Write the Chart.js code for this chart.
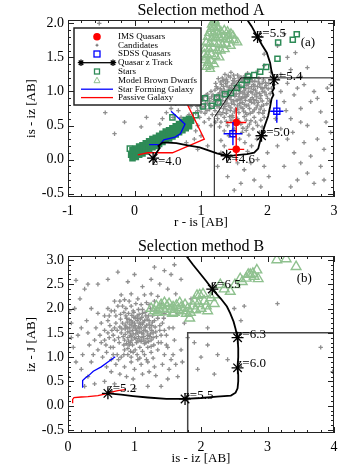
<!DOCTYPE html>
<html>
<head>
<meta charset="utf-8">
<script src="https://cdn.jsdelivr.net/npm/chart.js@4.4.1/dist/chart.umd.min.js"></script>
<style>
  body { margin: 0; background: #fff; }
  .panel { width: 354px; height: 236px; }
</style>
</head>
<body>
<div class="panel"><canvas id="chartA" width="354" height="236"></canvas></div>
<div class="panel"><canvas id="chartB" width="354" height="236"></canvas></div>
<script>
// ---------- Panel A data (r - is vs is - iz) ----------
const candidatesA = [
  [1.22,1.12],[1.25,1.05],[1.28,0.98],[1.31,1.1],[1.33,0.92],[1.35,1.02],[1.37,0.86],[1.4,1.14],[1.41,0.95],[1.43,1.06],
  [1.45,0.88],[1.46,0.99],[1.48,1.12],[1.5,0.81],[1.51,0.93],[1.53,1.03],[1.55,0.87],[1.56,1.16],[1.58,0.97],[1.6,1.08],
  [1.62,0.84],[1.63,0.92],[1.65,1.01],[1.67,1.13],[1.68,0.79],[1.7,0.95],[1.72,1.05],[1.74,0.88],[1.75,1.18],[1.77,0.98],
  [1.79,1.1],[1.8,0.83],[1.82,1.02],[1.84,0.92],[1.86,1.14],[1.88,0.97],[1.9,1.06],[1.92,0.86],[1.94,1.17],[1.96,0.99],
  [1.98,1.09],[2.0,0.9],[2.02,1.12],[1.18,0.95],[1.2,0.85],[1.15,1.0],[1.12,0.9],[1.1,0.82],[1.08,0.95],[1.05,0.78],
  [1.02,0.88],[0.98,0.8],[0.95,0.72],[0.9,0.85],[0.92,0.68],[1.0,0.7],[1.06,0.68],[1.13,0.74],[1.17,0.66],[1.24,0.78],
  [1.27,0.7],[1.3,0.82],[1.34,0.75],[1.38,0.68],[1.42,0.79],[1.44,0.72],[1.47,0.65],[1.52,0.74],[1.57,0.69],[1.6,0.77],
  [1.64,0.71],[1.69,0.66],[1.73,0.75],[1.78,0.7],[1.83,0.76],[1.87,0.69],[1.91,0.78],[1.95,0.72],[1.26,1.19],[1.32,1.2],
  [1.38,1.18],[1.44,1.21],[1.5,1.19],[1.36,1.25],[1.45,1.28],[1.55,1.24],[1.6,1.21],[1.66,1.23],[1.29,1.14],[1.39,1.08],
  [1.47,1.04],[1.54,1.1],[1.59,1.0],[1.61,0.9],[1.66,0.96],[1.71,0.99],[1.73,1.14],[1.76,1.07],[1.81,0.95],[1.85,1.07],
  [1.89,0.9],[1.93,1.0],[1.97,1.13],[1.99,0.82],[1.36,0.97],[1.42,1.0],[1.49,0.97],[1.57,0.92],[1.64,1.06],[1.69,1.09],
  [1.77,0.91],[1.83,0.87],[1.34,1.07],[1.27,0.9],[1.21,1.02],[1.19,0.78],[1.23,0.93],[1.4,0.9],[1.46,0.83],[1.53,0.87],
  [1.58,0.82],[1.67,0.87],[1.71,0.8],[1.76,0.84],[1.81,1.15],[1.87,1.19],[1.92,1.12],[2.04,0.97],[2.06,1.05],[1.31,1.01],
  [1.48,1.16],[1.62,1.15],[1.7,1.17],[1.52,1.07],[1.44,0.93],[1.35,0.81],[1.3,0.94],[1.58,1.04],[1.66,0.91],[1.79,1.03],
  [1.23,1.07],[1.26,0.96],[1.29,1.04],[1.32,0.87],[1.34,1.16],[1.37,1.12],[1.39,0.83],[1.41,1.02],[1.43,0.91],[1.46,1.09],
  [1.49,0.86],[1.51,1.14],[1.53,0.96],[1.55,0.79],[1.57,1.06],[1.59,0.88],[1.61,1.18],[1.63,0.98],[1.65,0.81],[1.67,1.04],
  [1.69,0.93],[1.71,1.11],[1.73,0.86],[1.75,1.0],[1.77,1.15],[1.79,0.88],[1.81,1.08],[1.84,0.98],[1.86,0.84],[1.88,1.11],
  [1.9,0.94],[1.92,1.04],[1.94,0.8],[1.96,1.06],[1.98,0.95],[2.01,1.04],[2.03,0.86],[1.1,0.96],[1.13,0.86],[1.16,0.92],
  [1.19,0.88],[1.14,0.79],[1.07,0.83],[1.04,0.92],[1.01,0.76],[0.97,0.86],[0.94,0.78],[1.09,0.72],[1.21,0.72],[1.25,0.85],
  [1.28,0.76],[1.33,0.69],[1.36,0.78],[1.39,0.73],[1.45,0.76],[1.5,0.7],[1.55,0.74],[1.63,0.75],[1.67,0.69],[1.74,0.68],
  [1.8,0.73],[1.85,0.8],[1.89,0.74],[1.93,0.68],[1.57,0.56],[1.63,0.46],[1.52,0.52],[1.43,0.63],[1.73,0.52],[1.82,0.55],
  [1.38,0.56],[1.47,0.42],[1.68,0.43],[1.92,0.48],[1.3,0.66],[1.24,0.66],[1.49,1.24],[1.57,1.2],[1.41,1.23],[1.64,1.18],
  [1.33,1.16],
  [1.25,0.6],[1.3,0.55],[1.35,0.62],[1.4,0.5],[1.45,0.58],[1.5,0.45],[1.55,0.6],[1.6,0.52],[1.65,0.63],[1.7,0.48],
  [1.75,0.57],[1.8,0.62],[1.85,0.5],[1.9,0.58],[1.62,0.4],[1.72,0.36],[1.58,0.3],[1.42,0.35],[1.35,0.42],[1.28,0.48],
  [1.68,0.58],[1.78,0.45],[1.88,0.4],[1.95,0.62],[1.48,0.62],[1.22,0.55],[1.12,0.6],[1.05,0.55],[0.98,0.62],[1.15,0.5],
  [1.66,0.25],[1.76,0.2],[1.3,0.28],[1.84,0.3],[0.85,0.78],[0.8,0.9],[0.75,0.83],[0.7,0.88],[0.62,0.82],[0.55,0.75],
  [0.48,0.69],[0.66,0.72],[0.88,0.58],[0.95,0.5],[0.82,0.66],[0.58,0.62],[0.42,0.6],[0.38,0.52],[0.7,0.62],[0.92,0.42],
  [1.0,0.35],[0.9,0.3],[1.7,1.27],[1.85,1.3],[1.95,1.38],[2.05,1.28],[2.2,1.25],[2.3,1.5],[2.42,1.57],[2.35,1.32],
  [2.5,1.22],[2.25,1.85],[1.95,1.55],[2.6,1.35],[2.15,1.67],[2.1,1.1],[2.2,1.0],[2.25,0.85],[2.3,1.12],[2.35,0.6],
  [2.4,0.95],[2.45,1.05],[2.5,0.75],[2.55,1.1],[2.6,0.5],[2.65,0.85],[2.7,1.0],[2.75,0.3],[2.8,0.7],[2.85,0.15],
  [2.9,1.05],[2.95,0.4],[2.3,0.3],[2.4,0.1],[2.5,-0.05],[2.6,-0.2],[2.7,-0.35],[2.85,-0.3],[2.2,0.45],[2.15,0.2],
  [2.25,-0.1],[2.55,0.25],[2.45,-0.3],[2.35,-0.4],[2.8,-0.1],[2.65,0.05],[2.12,0.6],[2.28,0.72],[2.38,0.4],[2.5,0.55],
  [2.95,1.1],[2.75,0.9],[2.88,0.55],[1.3,0.1],[1.45,0.05],[1.55,-0.05],[1.65,-0.15],[1.75,-0.05],[1.85,0.0],[1.95,-0.1],
  [2.0,0.1],[1.4,-0.25],[1.6,-0.35],[1.8,-0.3],[1.5,-0.45],[1.25,-0.1],[1.9,-0.4],[1.7,0.12],[2.02,-0.25],[1.35,0.2],
  [-0.53,2.0],[-0.44,0.69],[-0.3,0.38],[0.3,0.85],[0.18,0.62],[0.1,0.48],[-0.15,0.55],[0.6,0.35],[0.78,0.25],[1.1,0.2],
  [0.95,0.15]
];
const starsA = [
  [-0.07,0.16],[0.57,0.62],[0.92,0.65],[1.03,0.78],[1.16,0.79],[1.06,0.9],[1.26,0.84],[1.24,0.91],[1.36,0.96],[1.45,0.98],
  [1.54,1.05],[1.61,1.1],[1.69,1.17],[1.71,1.22],[1.8,1.24],[1.89,1.29],[1.98,1.36],[2.15,1.48],[2.16,1.72],[2.38,1.76],[2.44,1.84]
];
const stellarBandA = [
  [-0.05,0.07],[0,0.1],[0.05,0.13],[0.1,0.15],[0.15,0.18],[0.2,0.21],[0.25,0.24],[0.3,0.26],[0.35,0.29],[0.4,0.32],
  [0.45,0.35],[0.5,0.37],[0.55,0.4],[0.6,0.43],[0.65,0.46],[0.7,0.49],[0.75,0.52],[0.8,0.55],[0.85,0.57],
  [-0.03,0.14],[0.02,0.16],[0.07,0.19],[0.12,0.21],[0.17,0.24],[0.22,0.27],[0.27,0.3],[0.32,0.32],[0.37,0.35],[0.42,0.38],
  [0.47,0.41],[0.52,0.43],[0.57,0.46],[0.62,0.49],[0.67,0.52],[0.72,0.55],[0.77,0.58],[0.82,0.6],
  [-0.03,0.02],[0.02,0.04],[0.07,0.07],[0.12,0.09],[0.17,0.12],[0.22,0.15],[0.27,0.18],[0.32,0.2],[0.37,0.23],[0.42,0.26],
  [0.47,0.29],[0.52,0.31],[0.57,0.34],[0.62,0.37],[0.67,0.4],[0.72,0.43],[0.77,0.46],[0.82,0.49]
];
const dwarfsA = [
  [1.18,2.02],[1.22,2.0],[1.2,1.95],[1.15,1.92],[1.25,1.93],[1.12,1.86],[1.18,1.85],[1.24,1.87],[1.3,1.88],[1.35,1.9],
  [1.4,1.88],[1.45,1.85],[1.48,1.82],[1.1,1.8],[1.16,1.78],[1.22,1.8],[1.28,1.78],[1.33,1.8],[1.38,1.77],[1.43,1.76],
  [1.5,1.75],[1.55,1.72],[1.08,1.72],[1.13,1.7],[1.2,1.72],[1.26,1.7],[1.32,1.68],[1.38,1.7],[1.45,1.67],[1.06,1.63],
  [1.12,1.62],[1.18,1.64],[1.24,1.6],[1.3,1.6],[1.36,1.62],[1.05,1.55],[1.1,1.53],[1.16,1.55],[1.22,1.52],[1.28,1.5],
  [1.05,1.46],[1.1,1.42],[1.15,1.45],[1.2,1.4],[1.08,1.36],[1.14,1.33],[1.21,2.04],[1.16,1.98],[1.27,1.83],[1.41,1.82],
  [1.07,1.5],[1.13,1.38]
];
const imsQuasars = [[1.53,0.545],[1.53,0.15]];
const imsXErr = [0.15,0.12];
const imsYErr = [0.22,0.18];
const sdssQuasars = [[1.48,0.38],[2.14,0.71]];
const sdssXErr = [0.14,0.1];
const sdssYErr = [0.17,0.17];
const trackA = [
  [0.28,0.02],[0.33,0.1],[0.38,0.17],[0.36,0.2],[0.42,0.25],[0.5,0.25],[0.63,0.24],[0.8,0.21],[0.98,0.18],[1.1,0.14],
  [1.24,0.09],[1.386,0.056],[1.5,0.06],[1.69,0.08],[1.8,0.1],[1.86,0.16],[1.91,0.35],[1.96,0.5],[2.01,0.64],[2.04,0.78],
  [2.06,0.89],[2.09,0.95],[2.07,1.0],[2.1,1.05],[2.08,1.1],[2.1,1.17],[2.06,1.3],[2.04,1.42],[1.99,1.57],[1.92,1.68],
  [1.85,1.8],[1.76,1.96],[1.69,2.06]
];
const trackStarsA = [[0.28,0.02],[1.386,0.056],[1.91,0.35],[2.1,1.17],[1.85,1.8]];
const trackLabelsA = ['z=4.0','z=4.6','z=5.0','z=5.4','z=5.5'];
const sfGalaxyA = [[0.22,0.22],[0.38,0.22],[0.44,0.29],[0.61,0.33],[0.69,0.38],[0.76,0.52],[0.55,0.71]];
const passiveGalaxyA = [[0.05,0.07],[0.2,0.1],[0.57,0.1],[1.05,0.3],[0.8,0.8],[0.72,0.95]];
const selectionA = [[1.2,-0.6],[1.2,0.62],[1.6,1.2],[3.1,1.2]];

// ---------- Panel B data (is - iz vs iz - J) ----------
const candidatesB = [
  [0.8,1.5],[0.82,1.7],[0.85,1.35],[0.87,1.85],[0.9,1.6],[0.92,1.25],[0.94,1.45],[0.95,1.75],[0.97,1.55],[0.98,1.95],
  [1.0,1.4],[1.01,1.65],[1.03,1.3],[1.04,1.85],[1.05,1.5],[1.07,1.7],[1.08,1.2],[1.1,1.6],[1.11,1.4],[1.12,1.9],
  [1.14,1.55],[1.15,1.75],[1.17,1.3],[1.18,1.65],[1.2,1.45],[1.21,1.85],[1.23,1.6],[1.25,1.35],[1.27,1.72],[1.28,1.5],
  [1.3,1.95],[0.78,1.62],[0.83,1.42],[0.86,1.58],[0.88,1.28],[0.91,1.9],[0.93,1.68],[0.96,1.35],[0.99,1.82],[1.02,1.58],
  [1.06,1.42],[1.09,1.78],[1.13,1.48],[1.16,1.92],[1.19,1.38],[1.22,1.68],[1.26,1.55],[1.29,1.25],[0.99,1.62],[1.04,1.75],
  [1.08,1.52],[0.93,1.52],[0.89,1.72],[1.12,1.68],[1.16,1.55],[0.97,1.25],[1.01,1.15],[1.06,1.98],[0.84,1.92],[0.76,1.4],
  [0.79,1.78],[1.31,1.62],[1.33,1.42],[1.35,1.8],[1.24,2.0],[0.95,2.05],[1.1,2.08],[0.87,2.0],[1.18,2.12],[0.96,1.66],
  [1.02,1.48],[1.07,1.6],[1.11,1.82],[0.9,1.4],[0.86,1.66],[1.14,1.35],[1.19,1.78],[1.23,1.42],[1.05,1.33],[0.94,1.12],
  [0.81,1.58],[0.84,1.25],[0.86,1.47],[0.88,1.8],[0.9,1.52],[0.91,1.33],[0.93,1.6],[0.95,1.42],[0.96,1.86],[0.98,1.48],
  [1.0,1.7],[1.02,1.38],[1.03,1.55],[1.05,1.8],[1.06,1.62],[1.08,1.35],[1.09,1.68],[1.11,1.5],[1.13,1.72],[1.14,1.42],
  [1.16,1.62],[1.17,1.85],[1.19,1.52],[1.21,1.32],[1.22,1.75],[1.24,1.48],[1.26,1.65],[1.28,1.4],[1.3,1.75],[1.32,1.52],
  [0.74,1.55],[0.77,1.3],[0.79,1.88],[0.82,2.05],[0.85,1.15],[0.9,1.18],[0.98,1.1],[1.04,1.05],[1.12,1.12],[1.2,1.2],
  [1.27,1.85],[1.33,1.95],[1.38,1.65],[1.4,1.45],[1.36,1.3],[0.72,1.7],[0.7,1.35],[0.66,1.55],[0.64,1.2],[0.7,1.95],
  [0.78,2.15],[0.92,2.15],[1.02,2.1],[1.12,1.98],[1.22,2.08],[1.3,2.15],[0.6,1.5],[0.55,1.35],[0.62,1.85],[0.68,1.05],
  [0.76,0.95],[0.84,1.05],[0.95,1.0],[1.08,0.98],[1.18,0.95],[1.28,0.98],[1.45,1.55],[1.48,1.25],[1.52,1.6],[1.44,1.8],
  [0.92,1.77],[0.97,1.72],[1.01,1.8],[1.07,1.88],[0.87,1.62],[0.94,1.3],[1.15,1.28],[1.25,1.22],[0.99,1.92],[1.1,1.32],
  [0.5,1.3],[0.55,1.55],[0.58,1.1],[0.6,1.75],[0.62,1.4],[0.65,0.95],[0.68,1.2],[0.7,1.6],[0.72,1.85],[0.74,1.05],
  [0.75,2.05],[0.68,1.45],[0.63,1.65],[0.57,1.25],[0.52,1.0],[0.48,1.45],[0.45,1.15],[0.72,0.85],[0.8,1.0],[0.85,0.8],
  [0.9,1.05],[0.95,0.9],[1.0,0.75],[1.05,0.95],[1.1,0.85],[1.15,1.05],[1.2,0.9],[1.25,1.1],[1.3,0.8],[1.35,1.15],
  [1.4,1.3],[1.45,1.05],[1.38,1.55],[1.42,1.7],[1.48,1.45],[1.5,1.2],[1.55,0.95],[1.45,1.9],[1.4,2.1],[1.35,2.25],
  [1.25,2.3],[1.15,2.28],[1.05,2.2],[0.95,2.3],[0.85,2.18],[0.8,2.28],[0.7,2.15],[0.65,1.95],[0.6,2.0],[0.55,1.85],
  [0.5,1.7],[0.42,1.6],[0.4,1.35],[0.38,1.05],[0.35,0.9],[0.32,1.25],[0.3,1.5],[0.28,1.75],[0.35,2.0],[0.45,1.9],
  [0.58,0.8],[0.65,0.7],[0.78,0.65],[0.88,0.6],[0.98,0.55],[1.12,0.65],[1.22,0.7],[1.32,0.62],[1.42,0.85],[1.52,0.75],
  [1.58,1.05],[1.6,1.35],[1.62,0.85],[1.58,1.6],[0.05,1.7],[0.08,1.2],[0.1,2.0],[0.12,0.9],[0.15,1.45],[0.18,2.2],
  [0.2,0.75],[0.22,1.05],[0.25,2.4],[0.12,2.58],[0.3,2.5],[0.45,2.5],[0.6,2.6],[0.75,2.75],[0.9,2.55],[1.0,2.7],
  [1.12,2.45],[1.25,2.6],[1.38,2.5],[1.5,2.4],[1.62,2.3],[1.7,2.6],[1.65,1.9],[1.75,1.7],[1.8,1.4],[1.7,1.15],
  [1.72,0.9],[1.65,0.6],[1.5,0.55],[1.4,0.4],[0.3,0.6],[0.4,0.45],[0.55,0.5],[0.7,0.45],[1.0,0.35],[1.2,0.4],
  [0.25,0.4],[0.05,1.4],[0.02,1.95],[0.2,1.6],[1.9,1.3],[1.85,2.2],[2.0,1.0],[1.95,0.75],[2.1,1.25],[2.2,0.65],
  [2.25,1.05],[2.4,0.95],[2.5,2.0],[2.6,1.75],[3.15,2.1],[3.8,1.2],[3.98,0.7],[2.65,2.05],[2.1,1.6],[0.0,0.6],
  [1.3,2.85],[1.45,2.78],[1.6,2.9],[1.55,2.7]
];
const dwarfsB = [
  [1.25,2.0],[1.3,1.95],[1.33,2.05],[1.37,1.98],[1.4,2.08],[1.43,2.0],[1.46,1.93],[1.49,2.05],[1.52,2.1],[1.55,1.98],
  [1.58,2.03],[1.6,1.92],[1.63,2.06],[1.66,1.98],[1.7,2.02],[1.73,1.95],[1.76,2.08],[1.8,2.0],[1.84,1.92],[1.88,2.05],
  [1.92,1.97],[1.96,2.1],[2.0,2.0],[1.35,1.92],[1.45,2.12],[1.57,1.9],[1.68,2.12],[1.78,1.9],[1.9,2.15],[2.05,2.15],
  [2.08,2.05],[1.83,1.8],[2.1,1.95],[2.15,2.22],[2.2,2.28],[1.98,2.28],[1.94,2.27],[2.03,2.3],[2.29,2.49],[2.44,2.35],
  [2.51,2.49],[2.59,2.61],[2.71,2.7],[2.74,2.7],[2.84,2.79],[2.86,2.61],[3.14,3.0],[3.28,3.02],[3.43,2.86],[2.2,2.1],
  [2.35,2.4],[2.62,2.55],[2.68,2.62],[2.78,2.72],[2.8,2.66]
];
const trackB = [
  [0.6,0.255],[0.8,0.23],[0.98,0.2],[1.2,0.17],[1.48,0.14],[1.76,0.14],[2.0,0.16],[2.24,0.19],[2.45,0.21],[2.52,0.27],
  [2.55,0.36],[2.56,0.5],[2.56,0.63],[2.55,0.78],[2.56,1.0],[2.56,1.18],[2.55,1.4],[2.52,1.58],[2.49,1.73],[2.44,1.9],
  [2.39,2.04],[2.3,2.2],[2.17,2.4],[2.08,2.56],[1.98,2.73],[1.88,2.9],[1.78,3.08]
];
const trackStarsB = [[0.6,0.255],[1.76,0.14],[2.55,0.78],[2.55,1.4],[2.17,2.4]];
const trackLabelsB = ['z=5.2','z=5.5','z=6.0','z=6.3','z=6.5'];
const sfGalaxyB = [[0.22,0.37],[0.22,0.52],[0.26,0.57],[0.31,0.62],[0.38,0.71],[0.5,0.8],[0.6,0.9],[0.71,1.01]];
const passiveGalaxyB = [[0.07,0.05],[0.07,0.13],[0.09,0.17],[0.2,0.18],[0.3,0.19],[0.45,0.21],[0.55,0.24],[0.65,0.28],[0.75,0.31],[0.86,0.33]];
const selectionB = [[1.8,-0.6],[1.8,1.5],[4.1,1.5]];

const SERIF = '"Liberation Serif", "Times New Roman", serif';
const GRAY = '#8e8e8e', DARKGREEN = '#2e8b57', LIGHTGREEN = '#8fc18f';
Chart.defaults.font.family = SERIF;
Chart.defaults.color = '#000';

const pts = arr => arr.map(p => ({x: p[0], y: p[1]}));

// frame with inward IDL-style ticks on all four sides
const idlFrame = {
  id: 'idlFrame',
  afterDatasetsDraw(chart, args, o) {
    const {ctx, chartArea: a, scales: {x, y}} = chart;
    ctx.save();
    ctx.strokeStyle = '#222';
    ctx.lineWidth = 1;
    ctx.strokeRect(a.left + 0.5, a.top + 0.5, a.right - a.left - 1, a.bottom - a.top - 1);
    const marks = (scale, step, len, horiz) => {
      for (let i = Math.ceil(scale.min / step - 1e-6); i * step <= scale.max + 1e-9; i++) {
        const p = Math.round(scale.getPixelForValue(i * step)) + 0.5;
        ctx.beginPath();
        if (horiz) {
          ctx.moveTo(p, a.bottom); ctx.lineTo(p, a.bottom - len);
          ctx.moveTo(p, a.top); ctx.lineTo(p, a.top + len);
        } else {
          ctx.moveTo(a.left, p); ctx.lineTo(a.left + len, p);
          ctx.moveTo(a.right, p); ctx.lineTo(a.right - len, p);
        }
        ctx.stroke();
      }
    };
    marks(x, o.xMajor, 6, true); marks(x, o.xMinor, 3, true);
    marks(y, o.yMajor, 6, false); marks(y, o.yMinor, 3, false);
    ctx.restore();
  }
};

// error bars for quasar datasets (dataset.xErr / dataset.yErr)
const errorBars = {
  id: 'errorBars',
  afterDatasetsDraw(chart) {
    const {ctx, scales: {x, y}} = chart;
    chart.data.datasets.forEach(ds => {
      if (!ds.xErr) return;
      ctx.save();
      ctx.strokeStyle = ds.borderColor;
      ctx.lineWidth = 1.4;
      ds.data.forEach((p, i) => {
        ctx.beginPath();
        ctx.moveTo(x.getPixelForValue(p.x - ds.xErr[i]), y.getPixelForValue(p.y));
        ctx.lineTo(x.getPixelForValue(p.x + ds.xErr[i]), y.getPixelForValue(p.y));
        ctx.moveTo(x.getPixelForValue(p.x), y.getPixelForValue(p.y - ds.yErr[i]));
        ctx.lineTo(x.getPixelForValue(p.x), y.getPixelForValue(p.y + ds.yErr[i]));
        ctx.stroke();
      });
      ctx.restore();
    });
  }
};

// redshift labels beside track asterisks, plus panel tag
const trackText = {
  id: 'trackText',
  afterDatasetsDraw(chart, args, o) {
    const {ctx, scales: {x, y}} = chart;
    ctx.save();
    ctx.font = '13px ' + SERIF;
    ctx.fillStyle = '#000';
    ctx.textBaseline = 'middle';
    o.stars.forEach((p, i) => {
      const off = o.offsets[i];
      ctx.fillText(o.labels[i], x.getPixelForValue(p[0]) + off[0], y.getPixelForValue(p[1]) + off[1]);
    });
    ctx.fillText(o.tag, x.getPixelForValue(o.tagAt[0]), y.getPixelForValue(o.tagAt[1]));
    ctx.restore();
  }
};

// boxed legend drawn inside panel A
const boxLegend = {
  id: 'boxLegend',
  afterDraw(chart, args, o) {
    if (!o.show) return;
    const ctx = chart.ctx;
    const L = 74, T = 28, R = 201, B = 105, sx = 97, tx = 118;
    const rows = [36.7, 45.2, 54, 62.7, 71.5, 80.2, 89.2, 97.6];
    const star = (cx, cy, r) => {
      ctx.beginPath();
      ctx.moveTo(cx - r, cy); ctx.lineTo(cx + r, cy);
      ctx.moveTo(cx, cy - r); ctx.lineTo(cx, cy + r);
      const d = r * 0.7;
      ctx.moveTo(cx - d, cy - d); ctx.lineTo(cx + d, cy + d);
      ctx.moveTo(cx - d, cy + d); ctx.lineTo(cx + d, cy - d);
      ctx.stroke();
    };
    ctx.save();
    ctx.fillStyle = '#fff';
    ctx.fillRect(L, T, R - L, B - T);
    ctx.strokeStyle = '#222';
    ctx.lineWidth = 1.5;
    ctx.strokeRect(L, T, R - L, B - T);
    ctx.fillStyle = 'red';
    ctx.beginPath(); ctx.arc(sx, rows[0], 3.8, 0, Math.PI * 2); ctx.fill();
    ctx.strokeStyle = '#666'; ctx.lineWidth = 1;
    ctx.beginPath(); ctx.moveTo(sx - 1.5, rows[1]); ctx.lineTo(sx + 1.5, rows[1]);
    ctx.moveTo(sx, rows[1] - 1.5); ctx.lineTo(sx, rows[1] + 1.5); ctx.stroke();
    ctx.strokeStyle = 'blue'; ctx.lineWidth = 1.3;
    ctx.strokeRect(sx - 3, rows[2] - 3, 6, 6);
    ctx.strokeStyle = '#000'; ctx.lineWidth = 1.3;
    ctx.beginPath(); ctx.moveTo(81, rows[3]); ctx.lineTo(113, rows[3]); ctx.stroke();
    star(81, rows[3], 3.2); star(113, rows[3], 3.2);
    ctx.strokeStyle = DARKGREEN; ctx.lineWidth = 1.3;
    ctx.strokeRect(sx - 2.5, rows[4] - 2.5, 5, 5);
    ctx.strokeStyle = LIGHTGREEN; ctx.lineWidth = 1;
    ctx.beginPath(); ctx.moveTo(sx, rows[5] - 3); ctx.lineTo(sx + 3, rows[5] + 2.5); ctx.lineTo(sx - 3, rows[5] + 2.5); ctx.closePath(); ctx.stroke();
    ctx.lineWidth = 1.3;
    ctx.strokeStyle = 'blue';
    ctx.beginPath(); ctx.moveTo(81, rows[6]); ctx.lineTo(113, rows[6]); ctx.stroke();
    ctx.strokeStyle = 'red';
    ctx.beginPath(); ctx.moveTo(81, rows[7]); ctx.lineTo(113, rows[7]); ctx.stroke();
    ctx.fillStyle = '#000';
    ctx.font = '9px ' + SERIF;
    ctx.textBaseline = 'middle';
    o.labels.forEach((t, i) => ctx.fillText(t, tx, rows[i]));
    ctx.restore();
  }
};

function makePanel(id, p) {
  const datasets = [];
  if (p.ims) {
    datasets.push({data: pts(p.ims), xErr: imsXErr, yErr: imsYErr, pointStyle: 'circle', pointRadius: 3.8,
      backgroundColor: 'red', borderColor: 'red', borderWidth: 0, order: 1});
    datasets.push({data: pts(p.sdss), xErr: sdssXErr, yErr: sdssYErr, pointStyle: 'rect', pointRadius: 4.3,
      backgroundColor: 'rgba(0,0,0,0)', borderColor: 'blue', borderWidth: 1.3, order: 1});
  }
  datasets.push({data: pts(p.trackStars), pointStyle: 'star', pointRadius: 6, borderColor: '#000', borderWidth: 1.3, order: 2});
  datasets.push({data: pts(p.track), showLine: true, pointRadius: 0, borderColor: '#000', borderWidth: 1.8, order: 3});
  datasets.push({data: pts(p.selection), showLine: true, pointRadius: 0, borderColor: p.selColor, borderWidth: p.selWidth, order: 4});
  datasets.push({data: pts(p.sf), showLine: true, pointRadius: 0, borderColor: 'blue', borderWidth: 1.3, order: 5});
  datasets.push({data: pts(p.passive), showLine: true, pointRadius: 0, borderColor: 'red', borderWidth: 1.3, order: 5});
  if (p.stars) {
    datasets.push({data: pts(p.stars), pointStyle: 'rect', pointRadius: 3.6, backgroundColor: 'rgba(0,0,0,0)',
      borderColor: DARKGREEN, borderWidth: 1.5, order: 6});
    datasets.push({data: pts(p.band), pointStyle: 'rect', pointRadius: 3.6, backgroundColor: DARKGREEN,
      borderColor: DARKGREEN, borderWidth: 1.5, order: 6});
  }
  datasets.push({data: pts(p.dwarfs), pointStyle: 'triangle', pointRadius: p.dwarfSize, backgroundColor: 'rgba(0,0,0,0)',
    borderColor: LIGHTGREEN, borderWidth: 1.4, order: 7});
  datasets.push({data: pts(p.candidates), pointStyle: 'cross', pointRadius: 2.2, borderColor: GRAY, borderWidth: 1.3, order: 9});

  return new Chart(document.getElementById(id), {
    type: 'scatter',
    data: {datasets},
    options: {
      responsive: false,
      animation: false,
      events: [],
      layout: {padding: {right: 20}},
      plugins: {
        legend: {display: false},
        tooltip: {enabled: false},
        title: {display: true, text: p.title, color: '#000', fullSize: false,
          font: {size: 16, weight: 'normal', family: SERIF, lineHeight: 1.125}, padding: {top: 2, bottom: 0}},
        idlFrame: {xMajor: 1, xMinor: 0.2, yMajor: 0.5, yMinor: 0.1},
        trackText: {stars: p.trackStars, labels: p.trackLabels, offsets: p.labelOffsets, tag: p.tag, tagAt: p.tagAt},
        boxLegend: {show: !!p.legend, labels: p.legend || []}
      },
      scales: {
        x: {
          type: 'linear', min: p.xRange[0], max: p.xRange[1],
          afterFit: s => { s.height = 39; },
          grid: {display: false, drawTicks: false},
          border: {display: false},
          ticks: {stepSize: 1, padding: 6, includeBounds: false, font: {size: 14}, color: '#000', maxRotation: 0,
            callback: v => String(v)},
          title: {display: true, text: p.xTitle, font: {size: 13}, color: '#000', padding: {top: 0, bottom: 6}}
        },
        y: {
          type: 'linear', min: p.yRange[0], max: p.yRange[1],
          afterFit: s => { s.width = 68; },
          grid: {display: false, drawTicks: false},
          border: {display: false},
          ticks: {stepSize: 0.5, padding: 4, includeBounds: false, font: {size: 14}, color: '#000',
            callback: v => v.toFixed(1)},
          title: {display: true, text: p.yTitle, font: {size: 13}, color: '#000', padding: {top: 24, bottom: 0}}
        }
      }
    },
    plugins: [errorBars, trackText, idlFrame, boxLegend]
  });
}

makePanel('chartA', {
  title: 'Selection method A', xTitle: 'r - is [AB]', yTitle: 'is - iz [AB]',
  xRange: [-1, 3], yRange: [-0.55, 2.05],
  candidates: candidatesA, stars: starsA, band: stellarBandA, dwarfs: dwarfsA, dwarfSize: 4.8,
  ims: imsQuasars, sdss: sdssQuasars,
  track: trackA, trackStars: trackStarsA, trackLabels: trackLabelsA,
  labelOffsets: [[-1, 3], [-1, 4], [-1, -3], [-1, -3], [-1, -3]],
  sf: sfGalaxyA, passive: passiveGalaxyA, selection: selectionA, selColor: '#111', selWidth: 1,
  tag: '(a)', tagAt: [2.5, 1.72],
  legend: ['IMS Quasars', 'Candidates', 'SDSS Quasars', 'Quasar z Track', 'Stars', 'Model Brown Dwarfs',
    'Star Forming Galaxy', 'Passive Galaxy']
});

makePanel('chartB', {
  title: 'Selection method B', xTitle: 'is - iz [AB]', yTitle: 'iz - J [AB]',
  xRange: [0, 4], yRange: [-0.56, 3.08],
  candidates: candidatesB, dwarfs: dwarfsB, dwarfSize: 5.6,
  track: trackB, trackStars: trackStarsB, trackLabels: trackLabelsB,
  labelOffsets: [[-1, -5], [-1, -3], [-1, -4], [-1, -3], [-1, -4]],
  sf: sfGalaxyB, passive: passiveGalaxyB, selection: selectionB, selColor: '#444', selWidth: 1.5,
  tag: '(b)', tagAt: [3.44, 2.62]
});
</script>
</body>
</html>
